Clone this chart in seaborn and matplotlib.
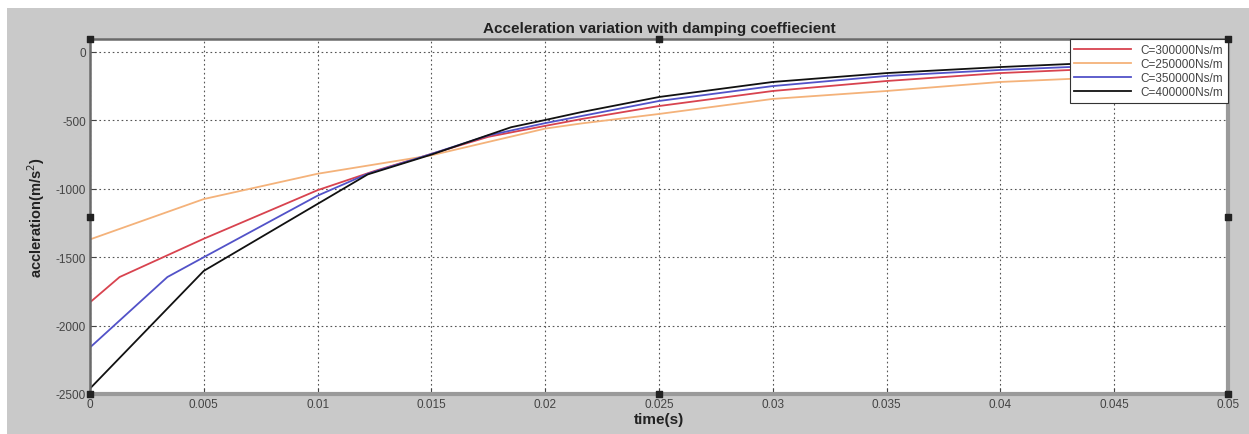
import pandas as pd
import matplotlib
matplotlib.use('Agg')
import matplotlib.pyplot as plt
import seaborn as sns
from matplotlib.patches import Rectangle

# valeurs (temps en s, acceleration en m/s^2)
t_300 = [0, 0.0013, 0.005, 0.01, 0.0125, 0.015, 0.0175, 0.02, 0.0216, 0.025, 0.03, 0.035, 0.04, 0.043, 0.05]
a_300 = [-1830, -1645, -1365, -1010, -870, -745, -620, -540, -490, -395, -285, -212, -154, -132, -95]

t_250 = [0, 0.005, 0.01, 0.015, 0.02, 0.0216, 0.025, 0.03, 0.035, 0.04, 0.043, 0.05]
a_250 = [-1370, -1075, -890, -755, -560, -522, -453, -343, -285, -219, -197, -160]

t_350 = [0, 0.0034, 0.005, 0.01, 0.0122, 0.015, 0.0175, 0.02, 0.0216, 0.025, 0.03, 0.035, 0.04, 0.043, 0.05]
a_350 = [-2160, -1645, -1500, -1050, -890, -745, -610, -520, -468, -358, -249, -175, -131, -110, -75]

t_400 = [0, 0.005, 0.0122, 0.015, 0.0185, 0.02, 0.0216, 0.025, 0.03, 0.035, 0.04, 0.043, 0.05]
a_400 = [-2460, -1600, -895, -750, -550, -497, -439, -329, -219, -154, -110, -88, -55]

labels = ['C=300000Ns/m', 'C=250000Ns/m', 'C=350000Ns/m', 'C=400000Ns/m']
colors = ['#d8434f', '#f4b27a', '#5252c8', '#111111']

x_ticks = [0, 0.005, 0.01, 0.015, 0.02, 0.025, 0.03, 0.035, 0.04, 0.045, 0.05]
x_tick_labels = ['0', '0.005', '0.01', '0.015', '0.02', '0.025', '0.03', '0.035', '0.04', '0.045', '0.05']
y_ticks = [0, -500, -1000, -1500, -2000, -2500]

# tableau long pour seaborn
frames = []
for lab, t, a in zip(labels, [t_300, t_250, t_350, t_400], [a_300, a_250, a_350, a_400]):
    frames.append(pd.DataFrame({'time': t, 'acc': a, 'C': lab}))
df = pd.concat(frames, ignore_index=True)

plt.rcParams['font.family'] = ['Liberation Sans', 'DejaVu Sans']
plt.rcParams['axes.unicode_minus'] = False

fig = plt.figure(figsize=(12.49, 4.35), dpi=100, facecolor='white')
# fond gris facon fenetre MATLAB
fig.patches.append(Rectangle((7 / 1249, 0), 1 - 7 / 1249, 1 - 9 / 435,
                             transform=fig.transFigure, facecolor='#c9c9c9',
                             edgecolor='none', zorder=-10))
ax = fig.add_axes([90 / 1249, 1 - 395 / 435, (1228 - 90) / 1249, (395 - 40) / 435])
ax.set_facecolor('white')

sns.lineplot(data=df, x='time', y='acc', hue='C', hue_order=labels,
             palette=dict(zip(labels, colors)), sort=False, estimator=None,
             linewidth=1.3, ax=ax)

ax.set_xlim(0, 0.05)
ax.set_ylim(-2500, 95)
ax.set_xticks(x_ticks)
ax.set_xticklabels(x_tick_labels)
ax.set_yticks(y_ticks)
ax.grid(True, linestyle=(0, (1.5, 2.5)), color='#555555', linewidth=0.8)
ax.tick_params(direction='in', length=4, labelsize=8.5, labelcolor='#444444',
               color='#444444', pad=3)

for side in ['left', 'top']:
    ax.spines[side].set_color('#6a6a6a')
    ax.spines[side].set_linewidth(1.8)
for side in ['right', 'bottom']:
    ax.spines[side].set_color('#9a9a9a')
    ax.spines[side].set_linewidth(3)

ax.set_title('Acceleration variation with damping coeffiecient',
             fontsize=11, fontweight='bold', color='#222222', pad=5)
ax.set_xlabel('time(s)', fontsize=11, fontweight='bold', color='#222222', labelpad=1)
ax.set_ylabel('accleration(m/s$^2$)', fontsize=10.5, fontweight='bold',
              color='#222222', labelpad=6)

leg = ax.legend(loc='upper right', borderaxespad=0, fontsize=8.5, frameon=True,
                fancybox=False, framealpha=1, handlelength=4.8, labelspacing=0.18,
                borderpad=0.4, handletextpad=0.8)
leg.get_frame().set_edgecolor('#333333')
leg.get_frame().set_linewidth(0.8)
for txt in leg.get_texts():
    txt.set_color('#444444')

# poignees de selection de l'editeur de figure
hx = [0, 0.5, 1, 0, 1, 0, 0.5, 1]
hy = [1, 1, 1, 0.5, 0.5, 0, 0, 0]
ax.scatter(hx, hy, marker='s', s=14, color='#222222', transform=ax.transAxes,
           clip_on=False, zorder=10)

fig.savefig('out.png', dpi=100, facecolor=fig.get_facecolor())
